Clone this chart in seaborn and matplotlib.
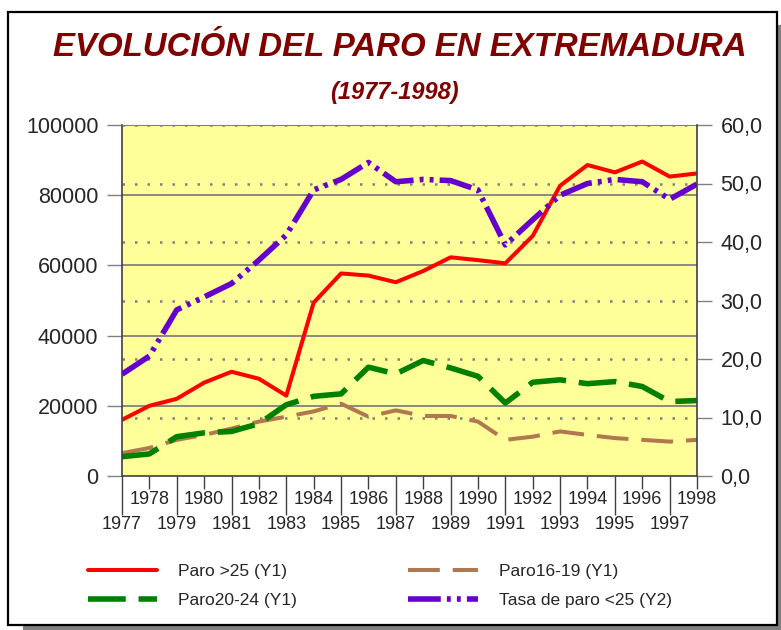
import matplotlib
matplotlib.use('Agg')
import matplotlib.pyplot as plt
import seaborn as sns
import pandas as pd
from matplotlib.patches import Rectangle
from matplotlib.ticker import FuncFormatter

years = list(range(1977, 1999))
paro_25 = [16000, 20000, 22000, 26600, 29700, 27700, 22900, 49400, 57700, 57100, 55200,
           58400, 62300, 61500, 60600, 68400, 82700, 88600, 86500, 89600, 85300, 86200]
paro_20_24 = [5500, 6300, 11200, 12300, 12700, 14900, 20300, 22700, 23400, 31000, 29100,
              32900, 30800, 28400, 20800, 26700, 27400, 26300, 26900, 25500, 21200, 21500]
paro_16_19 = [6500, 8000, 10300, 11700, 13500, 15500, 16900, 18400, 20600, 16900, 18700,
              17100, 17100, 15500, 10300, 11200, 12700, 11700, 10800, 10300, 9800, 10300]
tasa_25 = [17.4, 20.5, 28.4, 30.6, 32.9, 36.9, 41.2, 48.9, 50.7, 53.6, 50.3,
           50.7, 50.5, 48.9, 39.5, 43.8, 48.0, 50.0, 50.7, 50.3, 47.3, 49.9]

df = pd.DataFrame({'year': years, 'paro_25': paro_25, 'paro_20_24': paro_20_24,
                   'paro_16_19': paro_16_19, 'tasa_25': tasa_25})

sns.set_style('white')
plt.rcParams['font.family'] = ['Liberation Sans', 'DejaVu Sans']

fig = plt.figure(figsize=(7.81, 6.30), dpi=100)
W, H = 781.0, 630.0

# marco con sombra
fig.patches.append(Rectangle((23 / W, 0), (W - 23) / W, 5 / H, transform=fig.transFigure,
                             fc='#808080', ec='none', zorder=0))
fig.patches.append(Rectangle((777 / W, 0), 4 / W, 1 - 25 / H, transform=fig.transFigure,
                             fc='#808080', ec='none', zorder=0))
fig.patches.append(Rectangle((8 / W, 1 - 625 / H), 769 / W, 613 / H, transform=fig.transFigure,
                             fill=False, ec='black', lw=1.6, zorder=0))

ax = fig.add_axes([122 / W, 1 - 476 / H, 575 / W, 351 / H])
ax2 = ax.twinx()
ax.set_facecolor('#FFFF99')

sns.lineplot(data=df, x='year', y='paro_25', ax=ax, color='#FF0000', lw=2.9)
h1 = ax.lines[-1]
sns.lineplot(data=df, x='year', y='paro_20_24', ax=ax, color='#008000', lw=4,
             linestyle=(0, (6.8, 2.3)))
h2 = ax.lines[-1]
sns.lineplot(data=df, x='year', y='paro_16_19', ax=ax, color='#B07850', lw=2.9,
             linestyle=(0, (7.9, 3.2)), zorder=1.9)
h3 = ax.lines[-1]
sns.lineplot(data=df, x='year', y='tasa_25', ax=ax2, color='#6600CC', lw=4,
             linestyle=(0, (5.9, 1.1, 0.7, 1.1, 0.7, 1.1)))
h4 = ax2.lines[-1]

ax.set_ylim(0, 100000)
ax2.set_ylim(0, 60)
ax.set_xlim(1977, 1998)
ax.set_xlabel('')
ax.set_ylabel('')
ax2.set_ylabel('')

ax.set_yticks(range(0, 100001, 20000))
ax2.set_yticks(range(0, 61, 10))
ax2.yaxis.set_major_formatter(FuncFormatter(lambda v, p: ('%.1f' % v).replace('.', ',')))

for v in range(20000, 100001, 20000):
    ax.axhline(v, color='#808080', lw=1.3, zorder=0.5)
for t in range(10, 61, 10):
    ax.axhline(t * 100000 / 60, color='#808080', lw=1.8, ls=(0, (1, 4)), zorder=0.5)

ax.set_xticks(range(1977, 1999, 2), [str(y) for y in range(1977, 1999, 2)])
ax.set_xticks(range(1978, 1999, 2), [str(y) for y in range(1978, 1999, 2)], minor=True)
ax.tick_params(axis='x', which='major', length=28, width=1, color='#404040', pad=1,
               labelsize=13, bottom=True)
ax.tick_params(axis='x', which='minor', length=9, width=1, color='#404040', pad=2,
               labelsize=13, bottom=True)
ax.tick_params(axis='y', length=11, width=1, color='#808080', pad=6, labelsize=15.5, left=True)
ax2.tick_params(axis='y', length=11, width=1, color='#808080', pad=6, labelsize=15.5, right=True)

for s in ['left', 'bottom']:
    ax.spines[s].set_color('#404040')
    ax.spines[s].set_linewidth(1.2)
ax.spines['top'].set_color('#808080')
ax.spines['right'].set_visible(False)
ax2.spines['right'].set_color('#404040')
ax2.spines['right'].set_linewidth(1.2)
for s in ['left', 'bottom', 'top']:
    ax2.spines[s].set_visible(False)

fig.text(400 / W, 1 - 48 / H, 'EVOLUCIÓN DEL PARO EN EXTREMADURA', ha='center', va='center',
         fontsize=23.8, fontweight='bold', style='italic', color='#800000')
fig.text(394 / W, 1 - 92 / H, '(1977-1998)', ha='center', va='center',
         fontsize=17, fontweight='bold', style='italic', color='#800000')

fig.legend([h1, h2, h3, h4],
           ['Paro >25 (Y1)', 'Paro20-24 (Y1)', 'Paro16-19 (Y1)', 'Tasa de paro <25 (Y2)'],
           ncol=2, loc='upper left', bbox_to_anchor=(88 / W, 1 - 564 / H), frameon=False,
           fontsize=12.5, handlelength=4, handletextpad=1.2, columnspacing=6.4,
           labelspacing=0.8, borderpad=0, borderaxespad=0)

fig.savefig('out.png', dpi=100)
